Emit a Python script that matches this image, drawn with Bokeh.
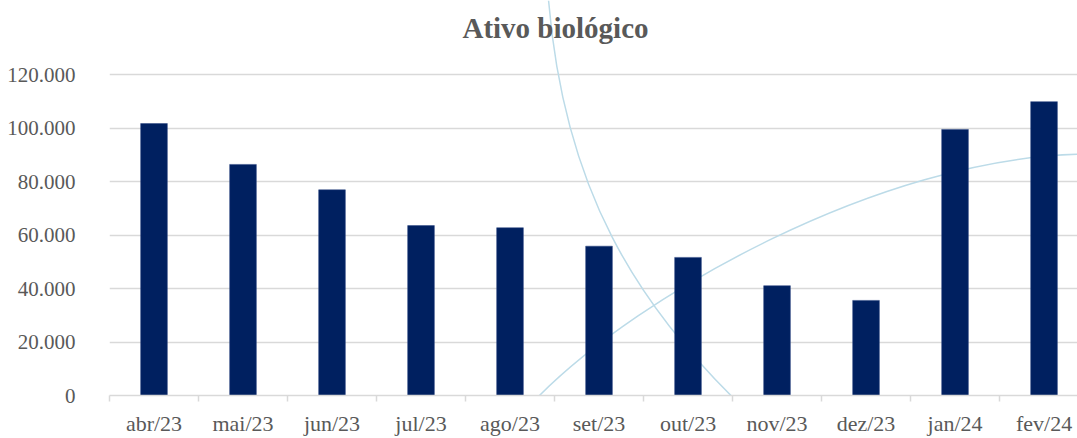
from bokeh.plotting import figure
from bokeh.models import Range1d, FixedTicker, ColumnDataSource, CustomJSTickFormatter, Label
from bokeh.embed import file_html
from bokeh.resources import INLINE

categories = ["abr/23", "mai/23", "jun/23", "jul/23", "ago/23", "set/23",
              "out/23", "nov/23", "dez/23", "jan/24", "fev/24"]
values = [101800, 86500, 77000, 63600, 62800, 55900, 51700, 41100, 35600, 99600, 110000]
y_ticks = [0, 20000, 40000, 60000, 80000, 100000, 120000]
title_text = "Ativo biológico"

positions = list(range(len(categories)))
src = ColumnDataSource(dict(x=positions, top=values, cat=categories))

FONT = "Liberation Serif"
GRAY = "#595959"

# the frame extends up to the top of the canvas so the title can sit inside it
p = figure(width=1077, height=438, output_backend="svg", toolbar_location=None,
           x_range=Range1d(-0.5, 10.376), y_range=Range1d(0, 147857),
           min_border_left=109, min_border_right=0, min_border_top=0, min_border_bottom=40)
p.outline_line_color = None
p.background_fill_color = "white"

# decorative background curves
p.bezier(x0=[4.309], y0=[-743], x1=[10.376], y1=[90275], cx0=[5.466], cy0=[38265],
         cx1=[8.163], cy1=[88417], line_color="#bcdbe8", line_width=1.5)
p.bezier(x0=[4.433], y0=[147857], x1=[6.96], y1=[-14860], cx0=[4.60], cy0=[80987],
         cx1=[5.33], cy1=[32692], line_color="#bcdbe8", line_width=1.5)

p.vbar(x="x", top="top", width=0.30, bottom=0, source=src,
       fill_color="#002060", line_color="#2a4580", line_width=0.5)

p.add_layout(Label(x=4.511, y=137500, text=title_text, text_font=FONT,
                   text_font_size="29px", text_font_style="bold", text_color=GRAY,
                   text_align="center", text_baseline="middle"))

# y axis
p.yaxis.ticker = FixedTicker(ticks=y_ticks)
p.yaxis.formatter = CustomJSTickFormatter(code="return tick === 0 ? '0' : (tick/1000).toFixed(0) + '.000';")
p.yaxis.axis_line_color = None
p.yaxis.major_tick_line_color = None
p.yaxis.minor_tick_line_color = None
p.yaxis.major_label_text_font = FONT
p.yaxis.major_label_text_font_size = "21px"
p.yaxis.major_label_text_color = GRAY
p.yaxis.major_label_standoff = 28

# x axis
p.xaxis.ticker = FixedTicker(ticks=positions, minor_ticks=[i - 0.5 for i in range(len(categories) + 1)])
p.xaxis.major_label_overrides = {i: c for i, c in enumerate(categories)}
p.xaxis.axis_line_color = "#d9d9d9"
p.xaxis.axis_line_width = 1.5
p.xaxis.major_tick_line_color = None
p.xaxis.minor_tick_line_color = "#d9d9d9"
p.xaxis.minor_tick_line_width = 1.5
p.xaxis.minor_tick_in = 0
p.xaxis.minor_tick_out = 6
p.xaxis.major_label_text_font = FONT
p.xaxis.major_label_text_font_size = "22px"
p.xaxis.major_label_text_color = GRAY
p.xaxis.major_label_standoff = 9

p.xgrid.grid_line_color = None
p.ygrid.ticker = FixedTicker(ticks=y_ticks)
p.ygrid.grid_line_color = "#d9d9d9"
p.ygrid.grid_line_width = 1.5

open("out.html", "w").write(file_html(p, INLINE))
